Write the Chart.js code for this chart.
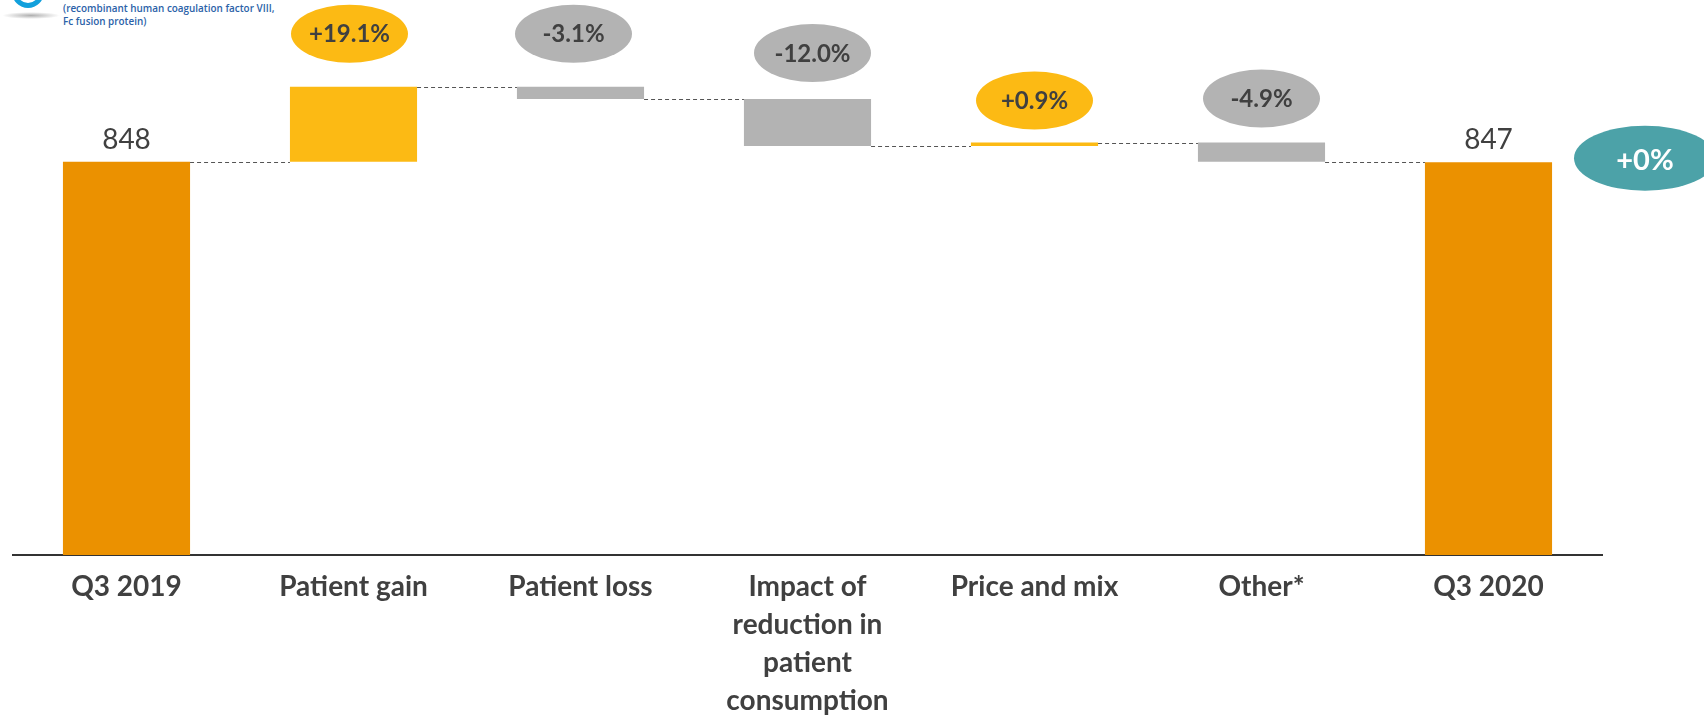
<!DOCTYPE html>
<html>
<head>
<meta charset="utf-8">
<title>Q3 2019 – Q3 2020 bridge</title>
<script src="https://cdn.jsdelivr.net/npm/chart.js@4.4.1/dist/chart.umd.min.js"></script>
<style>
  html, body { margin: 0; padding: 0; background: #fff; }
  #wrap { position: relative; width: 1704px; height: 717px; overflow: hidden; }
  #bridge { position: absolute; left: 0; top: 0; }
  .logo-ring { position: absolute; left: 12px; top: -24px; width: 22px; height: 22px; border: 5px solid #12a0dc; border-radius: 50%; }
  .logo-shadow { position: absolute; left: 2px; top: 12px; width: 58px; height: 7px; border-radius: 50%;
    background: radial-gradient(ellipse at center, rgba(110,110,110,0.55), rgba(110,110,110,0) 70%); }
  .brand-note { position: absolute; left: 63px; top: 1px; white-space: nowrap;
    font: 600 11px/13px "Open Sans", sans-serif; color: #2b62a8;
    transform: scaleX(0.9); transform-origin: left top; }
</style>
</head>
<body>
<div id="wrap">
  <div class="logo-ring"></div>
  <div class="logo-shadow"></div>
  <div class="brand-note">(recombinant human coagulation factor VIII,<br>Fc fusion protein)</div>
  <canvas id="bridge" width="1704" height="717"></canvas>
</div>
<script>
const categories = ['Q3 2019', 'Patient gain', 'Patient loss', ['Impact of', 'reduction in', 'patient', 'consumption'], 'Price and mix', 'Other*', 'Q3 2020'];
const startValue = 848;
const endValue = 847;
const changePct = [19.1, -3.1, -12.0, 0.9, -4.9];
const changeLabels = ['+19.1%', '-3.1%', '-12.0%', '+0.9%', '-4.9%'];
const totalChangeLabel = '+0%';

const ORANGE = '#eb9100';
const YELLOW = '#fcba14';
const GREY = '#b3b3b3';
const TEAL = '#4ca2a8';
const INK = '#404040';

// floating bars: totals from zero, steps from the running level
const bars = [[0, startValue]];
let level = startValue;
changePct.forEach(p => {
  const next = level + p / 100 * startValue;
  bars.push([level, next]);
  level = next;
});
bars.push([0, endValue]);

const barColors = [ORANGE].concat(changePct.map(p => p >= 0 ? YELLOW : GREY), [ORANGE]);

// bubble placement above each step bar: [dx, lift]
const bubbleSpots = [[-4, 53], [-7, 53], [5, 46], [0, 42], [0, 44]];

function ellipse(ctx, cx, cy, rx, ry, fill) {
  ctx.beginPath();
  ctx.ellipse(cx, cy, rx, ry, 0, 0, Math.PI * 2);
  ctx.fillStyle = fill;
  ctx.fill();
}

const bridgePlugin = {
  id: 'bridge',
  afterDatasetsDraw(chart) {
    const { ctx, chartArea, scales: { y } } = chart;
    const els = chart.getDatasetMeta(0).data;
    ctx.save();

    // dashed connectors
    ctx.setLineDash([4, 3]);
    ctx.lineWidth = 1;
    ctx.strokeStyle = '#555';
    for (let i = 0; i < els.length - 1; i++) {
      const yy = Math.round(y.getPixelForValue(bars[i][1])) + 0.5;
      const x0 = els[i].x + els[i].width / 2;
      const x1 = els[i + 1].x - els[i + 1].width / 2;
      ctx.beginPath();
      ctx.moveTo(x0, yy);
      ctx.lineTo(x1, yy);
      ctx.stroke();
    }
    ctx.setLineDash([]);

    ctx.textAlign = 'center';
    ctx.textBaseline = 'middle';

    // totals above the first and last bar
    ctx.fillStyle = INK;
    ctx.font = '28px Lato, sans-serif';
    ctx.fillText(String(startValue), els[0].x, y.getPixelForValue(startValue) - 22);
    const last = els[els.length - 1];
    ctx.fillText(String(endValue), last.x, y.getPixelForValue(endValue) - 22);

    // percentage bubbles
    ctx.font = 'bold 24px Lato, sans-serif';
    changePct.forEach((p, k) => {
      const el = els[k + 1];
      const top = Math.min(el.y, el.base);
      const cx = el.x + bubbleSpots[k][0];
      const cy = top - bubbleSpots[k][1];
      ellipse(ctx, cx, cy, 58.5, 29, p >= 0 ? YELLOW : GREY);
      ctx.fillStyle = INK;
      ctx.fillText(changeLabels[k], cx, cy + 1);
    });

    // overall change bubble
    const tx = chartArea.right + 43;
    const ty = y.getPixelForValue(endValue) - 4;
    ellipse(ctx, tx, ty, 71, 32.5, TEAL);
    ctx.fillStyle = '#ffffff';
    ctx.font = 'bold 29px Lato, sans-serif';
    ctx.fillText(totalChangeLabel, tx, ty + 2);

    ctx.restore();
  }
};

new Chart(document.getElementById('bridge'), {
  type: 'bar',
  data: {
    labels: categories,
    datasets: [{
      data: bars,
      backgroundColor: barColors,
      borderWidth: 0,
      categoryPercentage: 1,
      barPercentage: 0.56
    }]
  },
  options: {
    responsive: false,
    devicePixelRatio: 1,
    animation: false,
    layout: { padding: { left: 13, right: 102, top: 45, bottom: 0 } },
    plugins: { legend: { display: false }, tooltip: { enabled: false } },
    scales: {
      x: {
        grid: { display: false, drawTicks: false },
        border: { display: true, color: '#333', width: 2 },
        ticks: {
          color: INK,
          font: { family: 'Lato, sans-serif', size: 28, weight: 'bold', lineHeight: 1.36 },
          padding: 13,
          maxRotation: 0,
          autoSkip: false
        },
        afterFit(scale) { scale.height = 162; }
      },
      y: {
        display: false,
        min: 0,
        max: 1100
      }
    }
  },
  plugins: [bridgePlugin]
});
</script>
</body>
</html>
